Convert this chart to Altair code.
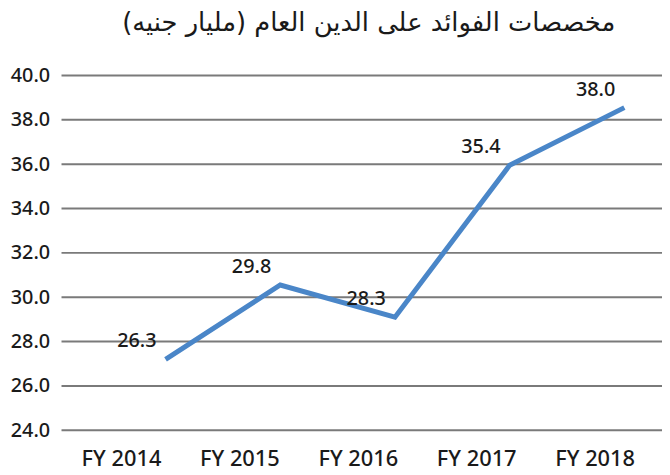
import altair as alt
import pandas as pd

years = ["FY 2014", "FY 2015", "FY 2016", "FY 2017", "FY 2018"]
# line heights
line_values = [27.2, 30.55, 29.1, 35.95, 38.55]
# data labels as printed
label_texts = ["26.3", "29.8", "28.3", "35.4", "38.0"]
y_ticks = [24, 26, 28, 30, 32, 34, 36, 38, 40]
title_text = "مخصصات الفوائد على الدين العام (مليار جنيه)"

df = pd.DataFrame({"year": years, "value": line_values, "label": label_texts})
grid_df = pd.DataFrame({"value": y_ticks})

W, H = 606, 358
FONT = "Noto Sans"
TXT = "#1a1a1a"

y_scale = alt.Scale(domain=[24, 40], nice=False, zero=False)
y_axis = alt.Axis(
    values=y_ticks, format=".1f", title=None, domain=False, ticks=False,
    grid=False, labelPadding=12,
    labelFontSize=20, labelFont=FONT, labelColor=TXT, labelFontWeight=500,
)
y_enc = alt.Y("value:Q", scale=y_scale, axis=y_axis)

x_line = alt.X(
    "year:N", sort=years,
    scale=alt.Scale(type="point", range=[105, 568], padding=0),
    axis=None,
)

grid = alt.Chart(grid_df).mark_rule(color="#7a7a7a", strokeWidth=2).encode(
    y=y_enc, x=alt.value(0), x2=alt.value(W)
)

axis_layer = alt.Chart(df).mark_point(opacity=0).encode(
    x=alt.X(
        "year:N", sort=years,
        scale=alt.Scale(type="point", range=[60, 538], padding=0),
        axis=alt.Axis(
            title=None, domain=False, ticks=False, grid=False, labelAngle=0,
            labelFontSize=22, labelFont=FONT, labelColor=TXT, labelPadding=19,
            labelFontWeight=500,
        ),
    ),
    y=y_enc,
)

line = alt.Chart(df).mark_line(color="#4a86c8", strokeWidth=5).encode(x=x_line, y=y_enc)
labels = alt.Chart(df).mark_text(
    dx=-29, dy=-18, fontSize=20, font=FONT, color=TXT, baseline="middle",
    align="center", fontWeight=500,
).encode(x=x_line, y=y_enc, text="label:N")

chart = (
    alt.layer(grid, axis_layer, line, labels)
    .resolve_scale(x="independent")
    .properties(
        width=W, height=H,
        title=alt.TitleParams(
            text=title_text, font="DejaVu Sans", fontSize=26, fontWeight="normal",
            color=TXT, anchor="middle", offset=30, dx=7,
        ),
        autosize=alt.AutoSizeParams(type="none"),
        padding={"left": 54, "top": 66, "right": 0, "bottom": 40},
    )
    .configure_view(stroke=None)
)

chart.save("out.html", embed_options={"renderer": "svg", "actions": False})
